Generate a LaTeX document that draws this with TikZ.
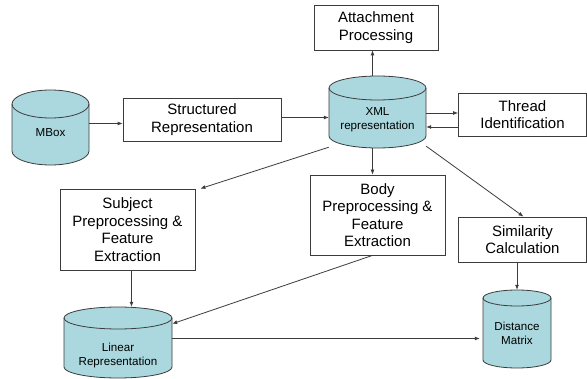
\documentclass[tikz,border=0pt]{standalone}
\usepackage{fontspec}
\setmainfont{Liberation Sans}
\usetikzlibrary{arrows.meta}
\definecolor{cylfill}{RGB}{170,216,222}
\definecolor{edge}{RGB}{60,60,60}
\tikzset{
  proc/.style={draw=edge, line width=0.8pt, fill=white, align=center,
    font=\fontsize{15}{17.5}\selectfont, inner sep=0pt},
  cylbody/.style={draw=edge, line width=0.8pt, fill=cylfill},
  cyllabel/.style={align=center, font=\fontsize{11.6}{14}\selectfont, inner sep=0pt},
  flow/.style={draw=edge, line width=0.8pt, -{Latex[length=5pt,width=4pt]}},
}
% #1 name, #2 centre x, #3 top y, #4 bottom y, #5 x radius, #6 y radius, #7 label y, #8 label
\newcommand\dbcyl[8]{%
  \path[cylbody] (#2-#5,#3+#6) -- (#2-#5,#4-#6)
    arc[start angle=180,end angle=360,x radius=#5pt,y radius=#6pt]
    -- (#2+#5,#3+#6)
    arc[start angle=0,end angle=180,x radius=#5pt,y radius=#6pt] -- cycle;
  \draw[draw=edge, line width=0.8pt] (#2-#5,#3+#6)
    arc[start angle=180,end angle=360,x radius=#5pt,y radius=#6pt];
  \node[inner sep=0pt, minimum width=2*#5 pt, minimum height=#4-#3 pt]
    (#1) at (#2,{(#3+#4)/2}) {};
  \node[cyllabel] (#1-t) at (#2,#7) {#8};
}
\begin{document}
\begin{tikzpicture}[x=1pt,y=-1pt]
\useasboundingbox[fill=white] (0,0) rectangle (587,379);

% stores
\dbcyl{mbox}{50.5}{90}{165}{38.5}{14}{133}{MBox}
\dbcyl{xml}{377.5}{76}{148}{48.5}{12}{120}{XML\\representation}
\dbcyl{lin}{118}{307}{378}{54}{11}{356}{Linear\\Representation}
\dbcyl{dm}{517}{290}{368}{34}{8}{333}{Distance\\Matrix}

% processing steps
\node[proc, minimum width=158pt, minimum height=43pt] (sr) at (202,119.5) {Structured\\Representation};
\node[proc, minimum width=124pt, minimum height=45pt] (att) at (376,27.5) {Attachment\\Processing};
\node[proc, minimum width=128pt, minimum height=43pt] (thr) at (522.5,114.5) {Thread\\Identification};
\node[proc, minimum width=135pt, minimum height=80pt] (body) at (377.5,215) {Body\\Preprocessing \&\\Feature\\Extraction};
\node[proc, minimum width=135pt, minimum height=81pt] (subj) at (127.5,229.5) {Subject\\Preprocessing \&\\Feature\\Extraction};
\node[proc, minimum width=128pt, minimum height=45pt] (sim) at (522.5,239.5) {Similarity\\Calculation};

% connectors
\draw[flow] ([yshift=4pt]mbox.east) -- ([yshift=4pt]mbox.east -| sr.west);
\draw[flow] ([yshift=2pt]sr.east) -- ([yshift=2pt]sr.east -| xml.west);
\draw[flow] ([xshift=-5pt]xml.north) -- ([xshift=-5pt]xml.north |- att.south);
\draw[flow] ([yshift=-1pt]xml.east) -- ([yshift=-1pt]xml.east -| thr.west);
\draw[flow] ([yshift=-15pt]xml.east -| thr.west) -- ([yshift=-15pt]xml.east);
\draw[flow] ([xshift=-5pt]xml.south) -- ([xshift=-5pt]xml.south |- body.north);
\draw[flow] ([yshift=1pt]xml.south west) -- ([xshift=5pt]subj.north east);
\draw[flow] ([yshift=2pt]xml.south east) -- ([xshift=1pt]sim.north);
\draw[flow] ([xshift=4pt]subj.south) -- ([xshift=4pt]subj.south |- lin.north);
\draw[flow] ([xshift=-5pt]body.south) -- ([yshift=-17pt]lin.north east);
\draw[flow] ([yshift=4pt]lin.east) -- ([yshift=4pt,xshift=-3pt]lin.east -| dm.west);
\draw[flow] (dm.north |- sim.south) -- (dm.north);
\end{tikzpicture}
\end{document}
